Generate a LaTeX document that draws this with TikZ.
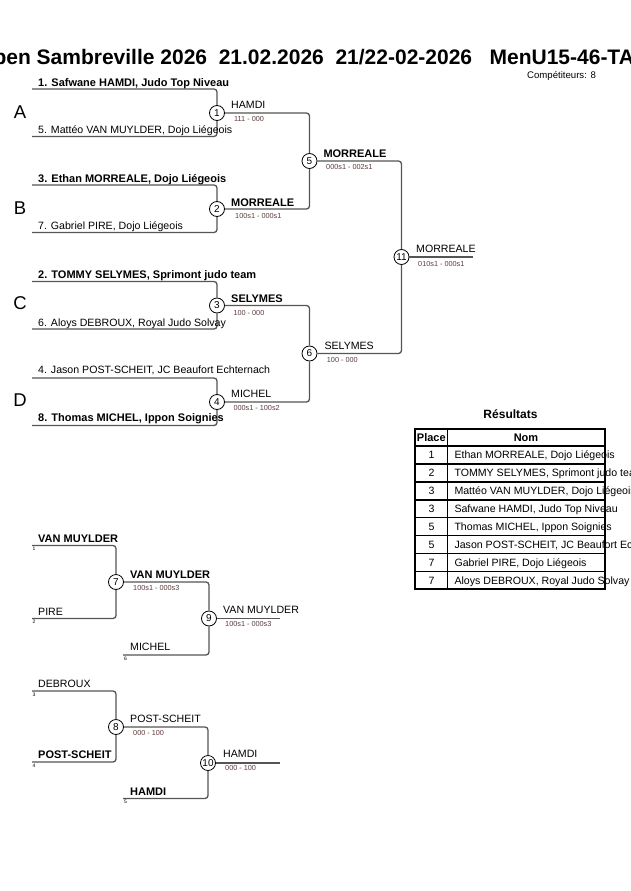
\documentclass[tikz,border=0pt]{standalone}
\usepackage{fontspec}
\setmainfont{Liberation Sans}
\definecolor{linecol}{HTML}{555555}
\definecolor{scorecol}{HTML}{5A3A3A}
\tikzset{
 bline/.style={draw=linecol, line width=1.3pt, rounded corners=3pt},
 mnum/.style={circle, draw=black, line width=0.8pt, fill=white, minimum size=15pt, inner sep=0pt, font=\fontsize{10}{10}\selectfont},
 nm/.style={anchor=base west, inner sep=0pt, font=\fontsize{10.6}{12}\selectfont},
 bnm/.style={anchor=base west, inner sep=0pt, font=\bfseries\fontsize{11}{12}\selectfont},
 sc/.style={anchor=base west, inner sep=0pt, text=scorecol, font=\fontsize{7.3}{8}\selectfont},
 seed/.style={anchor=base west, inner sep=0pt, font=\fontsize{5}{5}\selectfont},
 pool/.style={anchor=base, inner sep=0pt, font=\fontsize{18.5}{20}\selectfont},
 tline/.style={draw=black, line width=1.1pt},
 tframe/.style={draw=black, line width=1.8pt},
 place/.style={anchor=base, inner sep=0pt, font=\fontsize{10.6}{12}\selectfont},
}
\begin{document}
\begin{tikzpicture}[x=1pt,y=-1pt]
\useasboundingbox (0,0) rectangle (630,891);

% title
\node[anchor=base west, inner sep=0pt, font=\bfseries\fontsize{21}{24}\selectfont] (title) at (-23,64)
  {Open Sambreville 2026\ \ 21.02.2026\ \ 21/22-02-2026\ \ \ MenU15-46-TA};
\node[anchor=base west, inner sep=0pt, font=\fontsize{9.6}{11}\selectfont] (comp) at (527,78) {Compétiteurs: 8};

% pools
\node[pool] (pA) at (20,118.3) {A};
\node[pool] (pB) at (20,214) {B};
\node[pool] (pC) at (20,309) {C};
\node[pool] (pD) at (20,406.7) {D};

% main bracket matches
\node[mnum] (m1) at (217,113) {1};
\node[mnum] (m2) at (217,209) {2};
\node[mnum] (m3) at (217,305.5) {3};
\node[mnum] (m4) at (217,402) {4};
\node[mnum] (m5) at (309.5,161) {5};
\node[mnum] (m6) at (309.5,353.5) {6};
\node[mnum] (m11) at (401.5,257) {11};

\coordinate (s1) at (32,89);
\coordinate (s5) at (32,136.5);
\coordinate (s3) at (32,185);
\coordinate (s7) at (32,232.5);
\coordinate (s2) at (32,281.5);
\coordinate (s6) at (32,329);
\coordinate (s4) at (32,378);
\coordinate (s8) at (32,425.5);
\coordinate (fin) at (473,257);

\draw[bline] (s1) -| (m1.north);
\draw[bline] (s5) -| (m1.south);
\draw[bline] (s3) -| (m2.north);
\draw[bline] (s7) -| (m2.south);
\draw[bline] (s2) -| (m3.north);
\draw[bline] (s6) -| (m3.south);
\draw[bline] (s4) -| (m4.north);
\draw[bline] (s8) -| (m4.south);
\draw[bline] (m1.east) -| (m5.north);
\draw[bline] (m2.east) -| (m5.south);
\draw[bline] (m3.east) -| (m6.north);
\draw[bline] (m4.east) -| (m6.south);
\draw[bline] (m5.east) -| (m11.north);
\draw[bline] (m6.east) -| (m11.south);
\draw[bline] (m11.east) -- (fin);

% competitors
\node[bnm] (n1) at (38,86) {1. Safwane HAMDI, Judo Top Niveau};
\node[nm] (n5) at (38,133) {5. Mattéo VAN MUYLDER, Dojo Liégeois};
\node[bnm] (n3) at (38,182) {3. Ethan MORREALE, Dojo Liégeois};
\node[nm] (n7) at (38,229) {7. Gabriel PIRE, Dojo Liégeois};
\node[bnm] (n2) at (38,278.3) {2. TOMMY SELYMES, Sprimont judo team};
\node[nm] (n6) at (38,326) {6. Aloys DEBROUX, Royal Judo Solvay};
\node[nm] (n4) at (38,373.8) {4. Jason POST-SCHEIT, JC Beaufort Echternach};
\node[bnm] (n8) at (38,421.7) {8. Thomas MICHEL, Ippon Soignies};

% winners and scores
\node[nm] (w1) at (231,108.5) {HAMDI};
\node[sc] (sc1) at (234,121) {111 - 000};
\node[bnm] (w2) at (231,206) {MORREALE};
\node[sc] (sc2) at (235,218.3) {100s1 - 000s1};
\node[bnm] (w3) at (231,302.5) {SELYMES};
\node[sc] (sc3) at (233.3,315) {100 - 000};
\node[nm] (w4) at (231,397.7) {MICHEL};
\node[sc] (sc4) at (233.3,410.7) {000s1 - 100s2};
\node[bnm] (w5) at (323.3,157.3) {MORREALE};
\node[sc] (sc5) at (326,169.3) {000s1 - 002s1};
\node[nm] (w6) at (324.3,349.3) {SELYMES};
\node[sc] (sc6) at (326.7,362.7) {100 - 000};
\node[nm] (w11) at (416,252.7) {MORREALE};
\node[sc] (sc11) at (418,266.7) {010s1 - 000s1};

% results table
\node[anchor=base, inner sep=0pt, font=\bfseries\fontsize{12}{14}\selectfont] (rtitle) at (510.5,418.3) {Résultats};
\foreach \yy in {446,464,482,500,517.8,535.8,553.8,571.8} {
  \draw[tline] (415,\yy) -- (605,\yy);
}
\draw[tline] (447.3,429.3) -- (447.3,589.3);
\draw[tframe] (415,429.3) rectangle (605,589.3);
\node[anchor=base, inner sep=0pt, font=\bfseries\fontsize{11}{12}\selectfont] (hplace) at (431.3,441.7) {Place};
\node[anchor=base, inner sep=0pt, font=\bfseries\fontsize{11}{12}\selectfont] (hnom) at (526,441.7) {Nom};
\node[place] (p1) at (431.5,458.3) {1};
\node[place] (p2) at (431.5,476.2) {2};
\node[place] (p3) at (431.5,494.2) {3};
\node[place] (p4) at (431.5,512.1) {3};
\node[place] (p5) at (431.5,530) {5};
\node[place] (p6) at (431.5,548) {5};
\node[place] (p7) at (431.5,566) {7};
\node[place] (p8) at (431.5,584) {7};
\node[nm] (r1) at (454.3,458.3) {Ethan MORREALE, Dojo Liégeois};
\node[nm] (r2) at (454.3,476.2) {TOMMY SELYMES, Sprimont judo team};
\node[nm] (r3) at (454.3,494.2) {Mattéo VAN MUYLDER, Dojo Liégeois};
\node[nm] (r4) at (454.3,512.1) {Safwane HAMDI, Judo Top Niveau};
\node[nm] (r5) at (454.3,530) {Thomas MICHEL, Ippon Soignies};
\node[nm] (r6) at (454.3,548) {Jason POST-SCHEIT, JC Beaufort Echternach};
\node[nm] (r7) at (454.3,566) {Gabriel PIRE, Dojo Liégeois};
\node[nm] (r8) at (454.3,584) {Aloys DEBROUX, Royal Judo Solvay};

% repechage
\node[mnum] (m7) at (116,582) {7};
\node[mnum] (m9) at (209,618.5) {9};
\node[mnum] (m8) at (116,727) {8};
\node[mnum] (m10) at (208,763) {10};

\coordinate (q1) at (32,545.5);
\coordinate (q2) at (32,618.5);
\coordinate (q6) at (123,655);
\coordinate (q3) at (32,691);
\coordinate (q4) at (32,762);
\coordinate (q5) at (123,798.5);
\coordinate (f9) at (280,618.5);
\coordinate (f10) at (280,763);

\draw[bline] (q1) -| (m7.north);
\draw[bline] (q2) -| (m7.south);
\draw[bline] (m7.east) -| (m9.north);
\draw[bline] (q6) -| (m9.south);
\draw[bline] (m9.east) -- (f9);
\draw[bline] (q3) -| (m8.north);
\draw[bline] (q4) -| (m8.south);
\draw[bline] (m8.east) -| (m10.north);
\draw[bline] (q5) -| (m10.south);
\draw[bline] (m10.east) -- (f10);

\node[bnm] (e1) at (38,542.5) {VAN MUYLDER};
\node[seed] (d1) at (32.5,550.5) {1};
\node[nm] (e2) at (38,615) {PIRE};
\node[seed] (d2) at (32.5,623.5) {2};
\node[bnm] (e7) at (130,578) {VAN MUYLDER};
\node[sc] (sc7) at (133,590.5) {100s1 - 000s3};
\node[nm] (e6) at (130,650.5) {MICHEL};
\node[seed] (d6) at (124,660) {6};
\node[nm] (e9) at (223,613) {VAN MUYLDER};
\node[sc] (sc9) at (225,626) {100s1 - 000s3};

\node[nm] (e3) at (38,687.5) {DEBROUX};
\node[seed] (d3) at (32.5,696) {3};
\node[bnm] (e4) at (38,758.5) {POST-SCHEIT};
\node[seed] (d4) at (32.5,767) {4};
\node[nm] (e8) at (130,722.5) {POST-SCHEIT};
\node[sc] (sc8) at (133,735) {000 - 100};
\node[bnm] (e5) at (130,795) {HAMDI};
\node[seed] (d5) at (124,803.5) {5};
\node[nm] (e10) at (223,757.5) {HAMDI};
\node[sc] (sc10) at (225,770) {000 - 100};
\end{tikzpicture}
\end{document}
